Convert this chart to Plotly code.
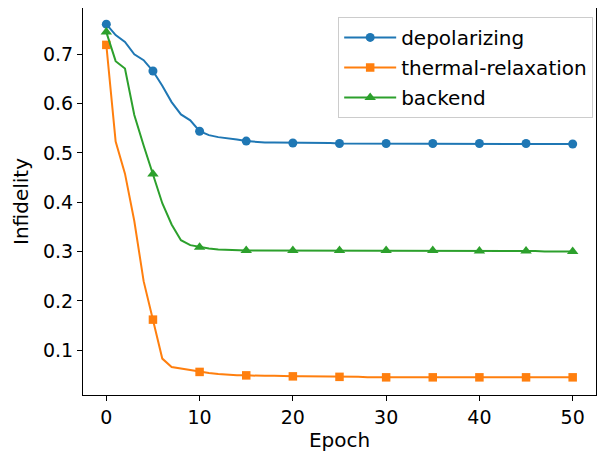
import plotly.graph_objects as go

epochs = list(range(51))

depolarizing = [0.761, 0.739, 0.725, 0.700, 0.688, 0.666, 0.636, 0.603, 0.578, 0.566,
                0.544, 0.536, 0.532, 0.530, 0.527, 0.524, 0.522, 0.521, 0.521, 0.521,
                0.520, 0.520, 0.520, 0.520, 0.520, 0.519, 0.519, 0.519, 0.519, 0.519,
                0.519, 0.519, 0.519, 0.519, 0.519, 0.519, 0.519, 0.519, 0.519, 0.519,
                0.519, 0.519, 0.519, 0.519, 0.519, 0.519, 0.519, 0.518, 0.518, 0.518,
                0.518]
thermal_relaxation = [0.719, 0.523, 0.458, 0.362, 0.240, 0.162, 0.083, 0.066, 0.063, 0.060,
                      0.056, 0.054, 0.052, 0.050, 0.049, 0.049, 0.048, 0.048, 0.048, 0.047,
                      0.047, 0.047, 0.047, 0.046, 0.046, 0.046, 0.046, 0.046, 0.045, 0.045,
                      0.045, 0.045, 0.045, 0.045, 0.045, 0.045, 0.045, 0.045, 0.045, 0.045,
                      0.045, 0.045, 0.045, 0.045, 0.045, 0.045, 0.045, 0.045, 0.045, 0.045,
                      0.045]
backend = [0.745, 0.686, 0.671, 0.577, 0.515, 0.457, 0.398, 0.355, 0.323, 0.313,
           0.309, 0.306, 0.304, 0.303, 0.302, 0.302, 0.302, 0.302, 0.302, 0.302,
           0.302, 0.302, 0.302, 0.302, 0.302, 0.302, 0.302, 0.302, 0.302, 0.302,
           0.302, 0.302, 0.302, 0.302, 0.302, 0.302, 0.301, 0.301, 0.301, 0.301,
           0.301, 0.301, 0.301, 0.301, 0.301, 0.301, 0.301, 0.300, 0.300, 0.300,
           0.300]

series_names = ["depolarizing", "thermal-relaxation", "backend"]
series_values = [depolarizing, thermal_relaxation, backend]
colors = ["#1f77b4", "#ff7f0e", "#2ca02c"]
symbols = ["circle", "square", "triangle-up"]
marker_sizes = [9, 8.5, 10]
mark_every = 5

x_ticks = [0, 10, 20, 30, 40, 50]
y_ticks = [0.1, 0.2, 0.3, 0.4, 0.5, 0.6, 0.7]

fig = go.Figure()
for i, (name, vals) in enumerate(zip(series_names, series_values)):
    fig.add_trace(go.Scatter(x=epochs, y=vals, mode="lines",
                             line=dict(color=colors[i], width=2),
                             showlegend=False, hoverinfo="skip"))
    fig.add_trace(go.Scatter(x=epochs[::mark_every], y=vals[::mark_every], mode="markers",
                             marker=dict(color=colors[i], symbol=symbols[i], size=marker_sizes[i]),
                             showlegend=False))
    fig.add_trace(go.Scatter(x=[None], y=[None], mode="lines+markers", name=name,
                             legendgroup=name,
                             line=dict(color=colors[i], width=2),
                             marker=dict(color=colors[i], symbol=symbols[i], size=marker_sizes[i])))

font = "DejaVu Sans"
axis_common = dict(showline=True, linecolor="black", linewidth=1, mirror=True,
                   ticks="outside", ticklen=5, tickwidth=1, tickcolor="black",
                   showgrid=False, zeroline=False, automargin=False,
                   tickfont=dict(family=font, size=19, color="black"))

# the page body adds an 8px offset, so the figure is 8px smaller than the window
fig.update_layout(
    width=601, height=449,
    margin=dict(l=75, r=13, t=0, b=62),
    paper_bgcolor="white", plot_bgcolor="white",
    font=dict(family=font, size=19, color="black"),
    xaxis=dict(range=[-2.5, 52.5], tickvals=x_ticks,
               title=dict(text="Epoch", font=dict(family=font, size=20), standoff=6),
               **axis_common),
    yaxis=dict(range=[0.0092, 0.7938], tickvals=y_ticks, tickformat=".1f",
               title=dict(text="Infidelity", font=dict(family=font, size=20), standoff=8),
               **axis_common),
    legend=dict(x=0.9945, y=0.977, xanchor="right", yanchor="top",
                bgcolor="rgba(255,255,255,0.8)", bordercolor="#cccccc", borderwidth=1,
                font=dict(family=font, size=20, color="black"),
                itemwidth=52, tracegroupgap=1),
)

fig.write_html("out.html")
